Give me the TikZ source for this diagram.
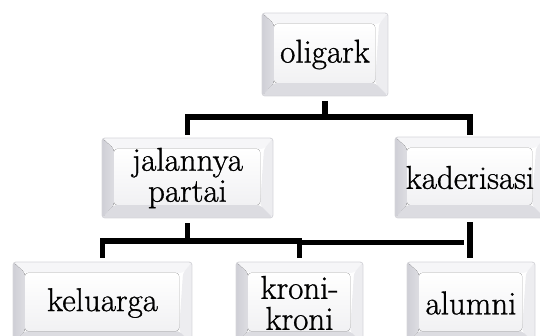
\documentclass[tikz,border=0pt]{standalone}
\usepackage{fontspec}
\newfontfamily\boxfont{Latin Modern Roman}[FakeBold=0.9]
\usetikzlibrary{calc}

\definecolor{bevTop}{HTML}{F6F6F8}
\definecolor{bevLeft}{HTML}{CFCFD6}
\definecolor{bevRight}{HTML}{EDEDF0}
\definecolor{bevBottom}{HTML}{DCDCE1}
\definecolor{faceTop}{HTML}{FFFFFF}
\definecolor{faceBot}{HTML}{F1F1F3}
\definecolor{rim}{HTML}{D6D6DB}

\tikzset{
  bevelbox/.style={
    rectangle, rounded corners=3pt, minimum width=#1, minimum height=82pt,
    align=center, inner sep=0pt, draw=rim, line width=0.9pt,
    font=\boxfont\fontsize{33}{31}\selectfont,
    path picture={
      \coordinate (A) at (path picture bounding box.north west);
      \coordinate (B) at (path picture bounding box.north east);
      \coordinate (C) at (path picture bounding box.south east);
      \coordinate (D) at (path picture bounding box.south west);
      \coordinate (a) at ($(A)+(12pt,-11pt)$);
      \coordinate (b) at ($(B)+(-9pt,-11pt)$);
      \coordinate (c) at ($(C)+(-13pt,13pt)$);
      \coordinate (d) at ($(D)+(12pt,13pt)$);
      \fill[bevTop] (A) -- (B) -- (b) -- (a) -- cycle;
      \fill[left color=bevLeft, right color=bevLeft!70!white] (A) -- (a) -- (d) -- (D) -- cycle;
      \fill[bevRight] (B) -- (C) -- (c) -- (b) -- cycle;
      \fill[bevBottom] (D) -- (d) -- (c) -- (C) -- cycle;
      \fill[top color=faceTop, bottom color=faceBot] (a) rectangle (c);
    }
  },
  conn/.style={line width=5.5pt, black}
}

\begin{document}
\begin{tikzpicture}[x=1pt, y=-1pt]
  \useasboundingbox (0,0) rectangle (540,336);
  \clip (0,0) rectangle (540,336);

  % boxes
  \node[bevelbox=126pt, minimum height=83pt] (olig) at (325,54.5) {oligark};
  \node[bevelbox=171pt, minimum height=80pt] (jal)  at (187.5,178) {jalannya\\partai};
  \node[bevelbox=150pt, minimum height=81pt] (kad)  at (470,177.5) {kaderisasi};
  \node[bevelbox=179pt] (kel) at (102.5,303) {keluarga};
  \node[bevelbox=127pt] (kro) at (299.5,303) {kroni-\\kroni};
  \node[bevelbox=128pt] (alu) at (471,303) {alumni};

  % top level branches
  \draw[conn] ($(olig.south)+(0,4.5)$) -- ($(olig.south)+(0,21.5)$);
  \draw[conn] ($(jal.north)+(0,-3)$) |- ($(kad.north)+(0,-19.5)$) -- ($(kad.north)+(0,-2)$);

  % branches below jalannya partai
  \draw[conn] ($(jal.south)+(0,5)$) -- ($(jal.south)+(0,23.5)$);
  \draw[conn] ($(kel.north)+(0,-4)$) |- ($(kro.north)+(0,-20.5)$) -- ($(kro.north)+(0,-4)$);

  % branch below kaderisasi
  \draw[conn] ($(kro.north)+(0,-19)$) -- ($(alu.north)+(-7,-19)$);
  \draw[conn] ($(kad.south)+(0,4)$) -- ($(kad.south)+(0,40)$);
\end{tikzpicture}
\end{document}
